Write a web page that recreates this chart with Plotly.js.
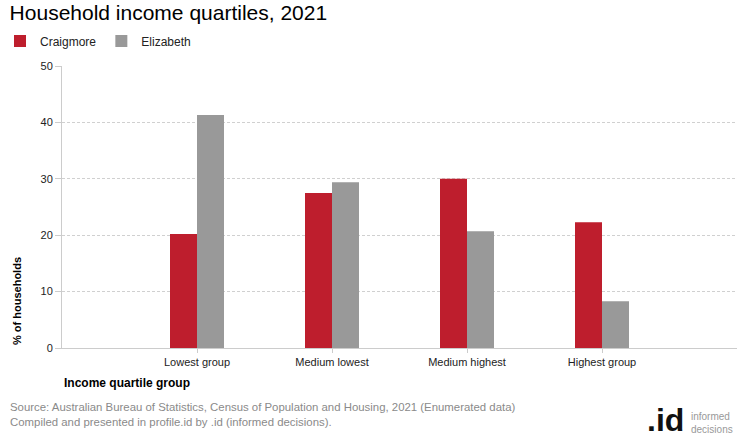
<!DOCTYPE html>
<html>
<head>
<meta charset="utf-8">
<script src="https://cdn.plot.ly/plotly-3.0.1.min.js"></script>
<style>html,body{margin:0;padding:0;background:#fff;}#chart{width:740px;height:440px;}</style>
</head>
<body>
<div id="chart"></div>
<script>
const categories = ["Lowest group", "Medium lowest", "Medium highest", "Highest group"];
const craigmore = [20.2, 27.5, 30.0, 22.3];
const elizabeth = [41.3, 29.4, 20.7, 8.3];
const yTicks = [0, 10, 20, 30, 40, 50];

const font = "Liberation Sans, Arial, sans-serif";

// plot area in pixels (for converting text positions to paper coords)
const PL = 62, PR = 737, PT = 66, PB = 348;
const px = x => (x - PL) / (PR - PL);
const py = y => (PB - y) / (PB - PT);

const traces = [
  {type: "bar", name: "Craigmore", x: categories, y: craigmore,
   marker: {color: "#be1e2d"}, hoverinfo: "none"},
  {type: "bar", name: "Elizabeth", x: categories, y: elizabeth,
   marker: {color: "#999999"}, hoverinfo: "none"}
];

const layout = {
  width: 740, height: 440,
  margin: {l: PL, r: 740 - PR, t: PT, b: 440 - PB},
  paper_bgcolor: "#fff", plot_bgcolor: "#fff",
  font: {family: font, color: "#333", size: 11},
  barmode: "group", bargap: 0.6, bargroupgap: 0,
  title: {text: "Household income quartiles, 2021", x: 0.013, xanchor: "left",
          y: 1 - 12.5/440, yanchor: "middle", xref: "container", yref: "container",
          font: {family: font, size: 21, color: "#000"}},
  showlegend: true,
  legend: {orientation: "h", xref: "container", yref: "container", x: 0.0, y: 1 - 41/440,
           xanchor: "left", yanchor: "middle", font: {family: font, size: 12, color: "#222"},
           itemwidth: 30, traceorder: "normal"},
  xaxis: {type: "category", range: [-1, 4], showgrid: false, showline: true,
          linecolor: "#cccccc", linewidth: 1, ticks: "outside", ticklen: 4, tickcolor: "#cccccc",
          tickfont: {family: font, size: 11, color: "#222"}, fixedrange: true,
          title: {text: ""}},
  yaxis: {range: [0, 50], tickvals: yTicks, showgrid: true, gridcolor: "#d0d0d0", griddash: "3px,2px",
          showline: true, linecolor: "#cccccc", ticks: "outside", ticklen: 6, tickcolor: "#cccccc",
          zeroline: false, tickfont: {family: font, size: 11, color: "#222"},
          title: {text: ""}},
  annotations: [
    {text: "<b>% of households</b>", xref: "paper", yref: "paper", x: px(17), y: py(301), textangle: -90,
     xanchor: "center", yanchor: "middle", showarrow: false, font: {family: font, size: 11, color: "#000"}},
    {text: "<b>Income quartile group</b>", xref: "paper", yref: "paper", x: px(62), y: py(383),
     yanchor: "middle", xanchor: "left", showarrow: false, font: {family: font, size: 12, color: "#000"}},
    {text: "Source: Australian Bureau of Statistics, Census of Population and Housing, 2021 (Enumerated data)<br>Compiled and presented in profile.id by .id (informed decisions).",
     xref: "paper", yref: "paper", x: px(8), y: py(414.5), xanchor: "left", yanchor: "middle",
     align: "left", showarrow: false, font: {family: font, size: 11.4, color: "#8a8a8a"}},
    {text: "<b>.id</b>", xref: "paper", yref: "paper", x: px(686), y: py(420), xanchor: "right", yanchor: "middle",
     showarrow: false, font: {family: font, size: 32, color: "#111"}},
    {text: "informed<br>decisions", xref: "paper", yref: "paper", x: px(689), y: py(422.5), xanchor: "left", yanchor: "middle",
     align: "left", showarrow: false, font: {family: font, size: 10, color: "#999"}}
  ]
};

Plotly.newPlot("chart", traces, layout, {displayModeBar: false, staticPlot: true});
</script>
</body>
</html>
